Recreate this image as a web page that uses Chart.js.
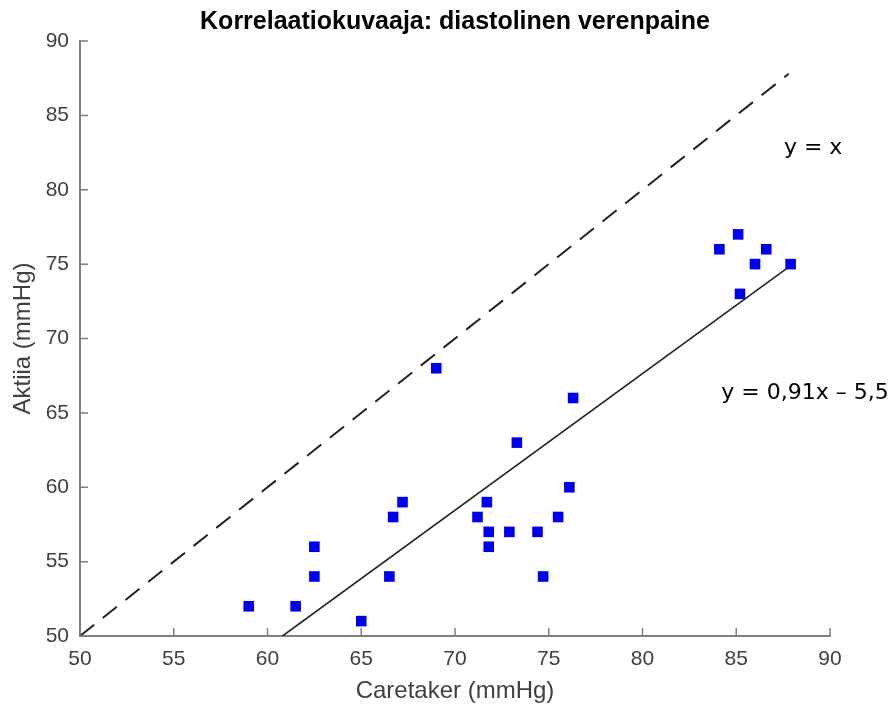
<!DOCTYPE html>
<html>
<head>
<meta charset="utf-8">
<script src="https://cdn.jsdelivr.net/npm/chart.js@4.4.1/dist/chart.umd.min.js"></script>
<style>
  html, body { margin: 0; padding: 0; background: #fff; }
  #wrap { width: 896px; height: 708px; }
</style>
</head>
<body>
<div id="wrap"><canvas id="corrChart" width="896" height="708"></canvas></div>
<script>
// Mittaukset (mmHg)
const caretaker = [59, 61.5, 62.5, 62.5, 65, 66.5, 66.7, 67.2, 69, 71.2, 71.7, 71.8, 71.8, 72.9, 73.3, 74.4, 74.7, 75.5, 76.1, 76.3, 84.1, 85.1, 85.2, 86, 86.6, 87.9];
const aktiia    = [52, 52,   54,   56,   51, 54,   58,   59,   68, 58,   59,   57,   56,   57,   63,   57,   54,   58,   60,   66,   76,   77,   73,   75, 76,   75];

// Viivojen päätepisteet
const diagX = [50, 87.8];
const diagY = [50, 87.8];
const fitX = [60.8, 87.9];
const fitY = [50, 74.9];

const ticks = [50, 55, 60, 65, 70, 75, 80, 85, 90];

const toPoints = (xs, ys) => xs.map((x, i) => ({ x: x, y: ys[i] }));

const axisGray = '#7f7f7f';
const labelGray = '#404040';
const sans = '"Liberation Sans", Arial, sans-serif';

// Otsikko, sisäänpäin osoittavat tikit ja tekstit
const extras = {
  id: 'extras',
  afterDraw(chart) {
    const ctx = chart.ctx;
    const xs = chart.scales.x, ys = chart.scales.y;
    const area = chart.chartArea;
    ctx.save();
    ctx.strokeStyle = axisGray;
    ctx.lineWidth = 1.5;
    ctx.beginPath();
    ticks.forEach(v => {
      const px = xs.getPixelForValue(v);
      ctx.moveTo(px, area.bottom);
      ctx.lineTo(px, area.bottom - 8);
      const py = ys.getPixelForValue(v);
      ctx.moveTo(area.left, py);
      ctx.lineTo(area.left + 8, py);
    });
    ctx.stroke();

    ctx.fillStyle = '#000';
    ctx.font = 'bold 25px ' + sans;
    ctx.textAlign = 'center';
    ctx.textBaseline = 'middle';
    ctx.fillText('Korrelaatiokuvaaja: diastolinen verenpaine', 455, 22);

    ctx.font = '22px "DejaVu Sans", Verdana, sans-serif';
    ctx.textAlign = 'center';
    ctx.fillText('y = x', xs.getPixelForValue(89.1), ys.getPixelForValue(82.8));
    ctx.textAlign = 'left';
    ctx.fillText('y = 0,91x \u2013 5,5', xs.getPixelForValue(84.2), ys.getPixelForValue(66.3));
    ctx.restore();
  }
};

const axisBase = {
  type: 'linear',
  min: 50,
  max: 90,
  border: { color: axisGray, width: 2 },
  grid: { display: false, drawTicks: false },
  ticks: {
    stepSize: 5,
    color: labelGray,
    font: { family: sans, size: 21 },
    padding: 11
  }
};

new Chart(document.getElementById('corrChart'), {
  type: 'scatter',
  data: {
    datasets: [
      {
        label: 'Mittaukset',
        data: toPoints(caretaker, aktiia),
        pointStyle: 'rect',
        pointRadius: 7.5,
        pointHoverRadius: 7.5,
        backgroundColor: '#0000f0',
        borderWidth: 0
      },
      {
        label: 'y = x',
        data: toPoints(diagX, diagY),
        showLine: true,
        pointRadius: 0,
        borderColor: '#222',
        borderWidth: 2,
        borderDash: [18, 11]
      },
      {
        label: 'sovite',
        data: toPoints(fitX, fitY),
        showLine: true,
        pointRadius: 0,
        borderColor: '#222',
        borderWidth: 1.6
      }
    ]
  },
  options: {
    responsive: false,
    animation: false,
    layout: { padding: { top: 41, right: 66, left: 0, bottom: 0 } },
    plugins: {
      legend: { display: false },
      tooltip: { enabled: false },
      title: { display: false }
    },
    scales: {
      x: Object.assign({}, axisBase, {
        afterFit(scale) { scale.height = 72; },
        title: {
          display: true,
          text: 'Caretaker (mmHg)',
          color: labelGray,
          font: { family: sans, size: 24 },
          padding: { top: 0, bottom: 2 }
        }
      }),
      y: Object.assign({}, axisBase, {
        afterFit(scale) { scale.width = 80; },
        title: {
          display: true,
          text: 'Aktiia (mmHg)',
          color: labelGray,
          font: { family: sans, size: 24 },
          padding: { top: 9, bottom: 0 }
        }
      })
    }
  },
  plugins: [extras]
});
</script>
</body>
</html>
